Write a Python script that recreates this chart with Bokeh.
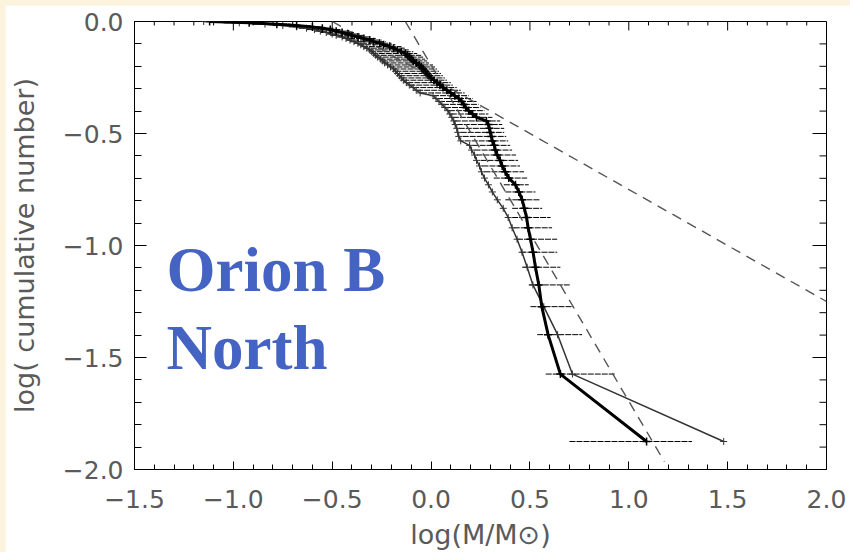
import numpy as np
from bokeh.plotting import figure
from bokeh.models import Range1d, FixedTicker, CustomJSTickFormatter, Label
from bokeh.layouts import column
from bokeh.embed import file_html
from bokeh.resources import INLINE

# cumulative number levels (log N(>M)/N_tot)
log_cum = [0.000, -0.006, -0.012, -0.018, -0.024, -0.030, -0.036, -0.043, -0.049, -0.056,
           -0.062, -0.069, -0.076, -0.083, -0.090, -0.097, -0.104, -0.112, -0.119, -0.127,
           -0.135, -0.143, -0.151, -0.159, -0.168, -0.176, -0.185, -0.194, -0.203, -0.212,
           -0.222, -0.232, -0.242, -0.252, -0.262, -0.273, -0.284, -0.295, -0.307, -0.319,
           -0.331, -0.344, -0.357, -0.370, -0.384, -0.398, -0.413, -0.428, -0.444, -0.460,
           -0.477, -0.495, -0.513, -0.533, -0.553, -0.574, -0.596, -0.620, -0.645, -0.671,
           -0.699, -0.729, -0.761, -0.796, -0.834, -0.875, -0.921, -0.972, -1.030, -1.097,
           -1.176, -1.273, -1.398, -1.574, -1.875]

# log(M/Msun) of the thick (main) curve
thick_x = [-1.12, -0.92, -0.78, -0.68, -0.60, -0.55, -0.51, -0.48, -0.45, -0.42,
           -0.40, -0.37, -0.34, -0.31, -0.29, -0.26, -0.24, -0.21, -0.19, -0.17,
           -0.15, -0.13, -0.12, -0.11, -0.10, -0.09, -0.075, -0.06, -0.05, -0.04,
           -0.03, -0.02, -0.01, 0.00, 0.015, 0.03, 0.045, 0.06, 0.08, 0.10,
           0.12, 0.14, 0.155, 0.165, 0.175, 0.19, 0.21, 0.23, 0.28, 0.29,
           0.295, 0.30, 0.305, 0.31, 0.32, 0.325, 0.335, 0.35, 0.36, 0.375,
           0.393, 0.427, 0.444, 0.461, 0.472, 0.483, 0.491, 0.503, 0.516, 0.528,
           0.545, 0.56, 0.592, 0.654, 1.09]

# log(M/Msun) of the thin (grey) curve
thin_x = [-1.15, -0.97, -0.84, -0.75, -0.68, -0.63, -0.59, -0.56, -0.53, -0.50,
          -0.48, -0.45, -0.43, -0.41, -0.39, -0.37, -0.355, -0.34, -0.325, -0.31,
          -0.30, -0.29, -0.28, -0.27, -0.255, -0.245, -0.235, -0.22, -0.205, -0.19,
          -0.18, -0.17, -0.16, -0.15, -0.14, -0.125, -0.11, -0.09, -0.075, -0.055,
          0.01, 0.025, 0.04, 0.055, 0.07, 0.085, 0.095, 0.105, 0.115, 0.122,
          0.13, 0.135, 0.14, 0.15, 0.195, 0.205, 0.22, 0.23, 0.245, 0.255,
          0.27, 0.29, 0.31, 0.335, 0.365, 0.39, 0.41, 0.435, 0.46, 0.486,
          0.515, 0.57, 0.64, 0.715, 1.48]

# horizontal error bars of the thick curve
err_lo = [-1.20, -1.05, -0.90, -0.80, -0.72, -0.67, -0.63, -0.59, -0.56, -0.53,
          -0.51, -0.48, -0.45, -0.43, -0.41, -0.39, -0.37, -0.35, -0.34, -0.32,
          -0.31, -0.30, -0.29, -0.28, -0.26, -0.25, -0.24, -0.22, -0.21, -0.19,
          -0.18, -0.17, -0.16, -0.15, -0.14, -0.12, -0.11, -0.09, -0.07, -0.05,
          0.01, 0.03, 0.04, 0.06, 0.07, 0.09, 0.10, 0.11, 0.12, 0.13,
          0.14, 0.15, 0.16, 0.17, 0.21, 0.22, 0.23, 0.25, 0.26, 0.27,
          0.317, 0.368, 0.376, 0.376, 0.41, 0.41, 0.418, 0.435, 0.452, 0.461,
          0.494, 0.503, 0.537, 0.58, 0.70]
err_hi = [-1.05, -0.85, -0.71, -0.61, -0.54, -0.49, -0.45, -0.42, -0.39, -0.36,
          -0.34, -0.31, -0.28, -0.25, -0.23, -0.20, -0.18, -0.15, -0.13, -0.11,
          -0.09, -0.07, -0.05, -0.04, -0.03, -0.02, -0.01, 0.01, 0.02, 0.03,
          0.04, 0.05, 0.06, 0.07, 0.08, 0.10, 0.11, 0.13, 0.15, 0.17,
          0.19, 0.21, 0.23, 0.24, 0.25, 0.27, 0.29, 0.31, 0.35, 0.36,
          0.37, 0.37, 0.38, 0.39, 0.40, 0.41, 0.43, 0.44, 0.45, 0.47,
          0.486, 0.494, 0.528, 0.553, 0.562, 0.604, 0.612, 0.638, 0.638, 0.654,
          0.705, 0.72, 0.764, 0.93, 1.32]

# power-law reference lines (dashed)
steep_x = [-0.13, 1.18]
steep_y = [0.0, -1.965]
shallow_x = [-0.5, 2.0]
shallow_y = [0.0, -1.25]

x_major = [-1.5, -1.0, -0.5, 0.0, 0.5, 1.0, 1.5, 2.0]
y_major = [-2.0, -1.5, -1.0, -0.5, 0.0]

X0, X1, Y0, Y1 = -1.5, 2.0, -2.0, 0.0
W, H = 845, 547
BL, BR, BT, BB = 129, 24, 16, 82
FW, FH = W - BL - BR, H - BT - BB
ux = (X1 - X0) / FW   # data units per pixel, x
uy = (Y1 - Y0) / FH   # data units per pixel, y

p = figure(width=W, height=H, x_range=Range1d(X0, X1), y_range=Range1d(Y0, Y1),
           output_backend="svg", toolbar_location=None,
           min_border_left=BL, min_border_right=BR, min_border_top=BT, min_border_bottom=BB)
p.background_fill_color = "white"
p.border_fill_color = "white"
p.outline_line_color = "black"
p.outline_line_width = 1
p.xgrid.visible = False
p.ygrid.visible = False

x_minor = np.round(np.arange(-1.5, 2.001, 0.1), 2).tolist()
y_minor = np.round(np.arange(-2.0, 0.001, 0.1), 2).tolist()
fmt = CustomJSTickFormatter(code="return (tick < -1e-9 ? '\u2212' : '') + Math.abs(tick).toFixed(1);")

TICK_FONT = "DejaVu Sans"
GREY = "#555555"

def style_axis(ax, major_in, minor_in):
    ax.axis_line_color = "black"
    ax.major_tick_line_color = "black"
    ax.minor_tick_line_color = "black"
    ax.major_tick_in = major_in
    ax.major_tick_out = 0
    ax.minor_tick_in = minor_in
    ax.minor_tick_out = 0
    ax.major_label_text_font = TICK_FONT
    ax.major_label_text_font_size = "25px"
    ax.major_label_text_color = "#5a5a5a"
    ax.axis_label_text_font = TICK_FONT
    ax.axis_label_text_font_size = "27px"
    ax.axis_label_text_font_style = "normal"
    ax.axis_label_text_color = "#5a5a5a"

xb = p.xaxis[0]
xb.ticker = FixedTicker(ticks=x_major, minor_ticks=x_minor)
xb.formatter = fmt
style_axis(xb, 8, 5)
xb.major_label_standoff = 20
xb.axis_label = "log(M/M\u2299)"
xb.axis_label_standoff = 8

yl = p.yaxis[0]
yl.ticker = FixedTicker(ticks=y_major, minor_ticks=y_minor)
yl.formatter = fmt
style_axis(yl, 12, 7)
yl.major_label_standoff = 11
yl.axis_label = "log( cumulative number)"
yl.axis_label_standoff = 20

# mirrored inward ticks on the top and right frame edges
x_min_only = [v for v in x_minor if all(abs(v - m) > 1e-6 for m in x_major)]
y_min_only = [v for v in y_minor if all(abs(v - m) > 1e-6 for m in y_major)]
p.segment(x0=x_major, y0=[Y1] * len(x_major), x1=x_major, y1=[Y1 - 9 * uy] * len(x_major),
          line_color="black", line_width=1)
p.segment(x0=x_min_only, y0=[Y1] * len(x_min_only), x1=x_min_only, y1=[Y1 - 4 * uy] * len(x_min_only),
          line_color="black", line_width=1)
p.segment(x0=[X1] * len(y_major), y0=y_major, x1=[X1 - 14 * ux] * len(y_major), y1=y_major,
          line_color="black", line_width=1)
p.segment(x0=[X1] * len(y_min_only), y0=y_min_only, x1=[X1 - 7 * ux] * len(y_min_only), y1=y_min_only,
          line_color="black", line_width=1)

# error bars
p.segment(x0=err_lo, y0=log_cum, x1=err_hi, y1=log_cum, line_color="black",
          line_width=1, line_alpha=1.0, line_dash="6 1")

# dashed reference lines
p.line(steep_x, steep_y, line_color=GREY, line_width=1.4, line_dash="10 7")
p.line(shallow_x, shallow_y, line_color=GREY, line_width=1.4, line_dash="10 7")

# thin grey curve
p.line(thin_x, log_cum, line_color="#333333", line_width=1.5)
p.scatter(thin_x, log_cum, marker="cross", size=7, line_color="#333333", line_width=1)

# thick black curve
p.line(thick_x, log_cum, line_color="black", line_width=3)
p.scatter(thick_x, log_cum, marker="cross", size=8, line_color="black", line_width=1.5)

for txt, yy in [("Orion B", -1.110), ("North", -1.457)]:
    p.add_layout(Label(x=-1.338, y=yy, text=txt, text_font="Liberation Serif",
                       text_font_size="63px", text_font_style="bold",
                       text_color="#4563C2", text_baseline="alphabetic", text_align="left"))

root = column(p, styles={"background-color": "#FCF3DE", "padding-left": "5px", "padding-top": "5px"})

open("out.html", "w").write(file_html(root, INLINE))
